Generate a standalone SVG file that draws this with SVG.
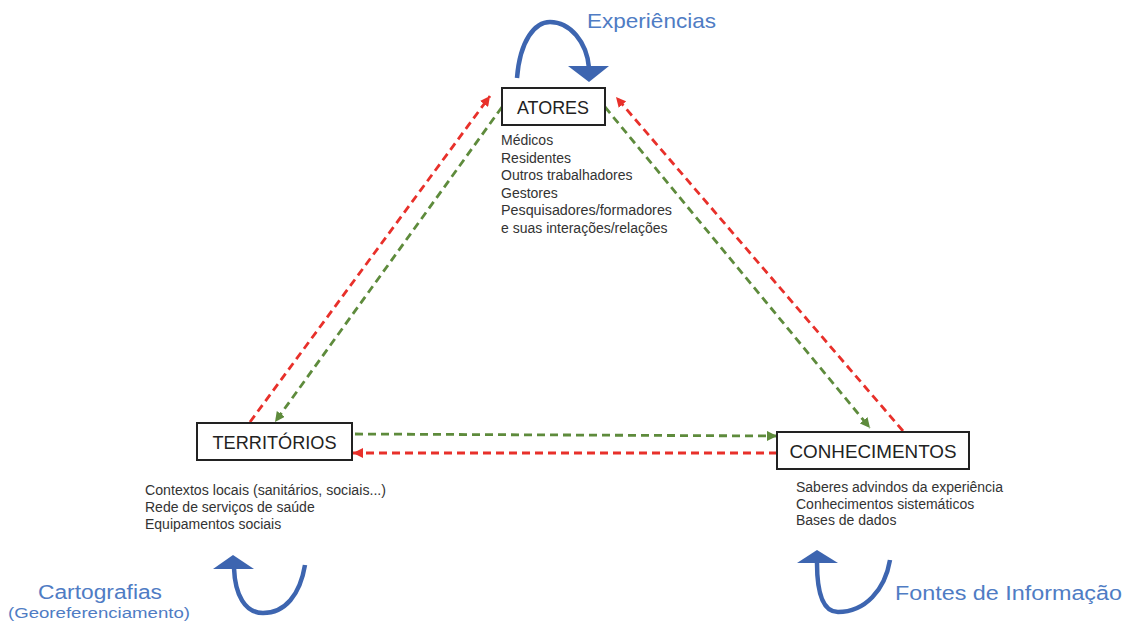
<svg xmlns="http://www.w3.org/2000/svg" width="1129" height="628" viewBox="0 0 1129 628">
  <style>
    .box { fill: #ffffff; stroke: #222222; stroke-width: 2; }
    .title { font-family: "Liberation Sans", "Open Sans", sans-serif; font-size: 18px; fill: #222222; }
    .sub { font-family: "Liberation Sans", "Open Sans", sans-serif; font-size: 14px; fill: #333333; }
    .label { font-family: "Liberation Sans", "Open Sans", sans-serif; fill: #4f7cc4; }
    .red { stroke: #e8302a; stroke-width: 2.8; stroke-dasharray: 8 5; fill: none; marker-end: url(#arrRed); }
    .green { stroke: #5e8b3c; stroke-width: 2.8; stroke-dasharray: 8 5; fill: none; marker-end: url(#arrGreen); }
    .loop { stroke: #3d65b0; stroke-width: 4.5; fill: none; }
    .loophead { fill: #3d65b0; }
  </style>
  <defs>
    <marker id="arrRed" markerUnits="userSpaceOnUse" markerWidth="12" markerHeight="10" refX="10" refY="5" orient="auto">
      <path d="M0,0 L10,5 L0,10 Z" fill="#e8302a"/>
    </marker>
    <marker id="arrGreen" markerUnits="userSpaceOnUse" markerWidth="12" markerHeight="10" refX="10" refY="5" orient="auto">
      <path d="M0,0 L10,5 L0,10 Z" fill="#5e8b3c"/>
    </marker>
  </defs>
  <rect width="1129" height="628" fill="#ffffff"/>

  <g id="connectors">
    <line class="red" x1="250" y1="422" x2="490" y2="96"/>
    <line class="green" x1="502" y1="107" x2="275" y2="422"/>
    <line class="green" x1="605" y1="107" x2="870" y2="428"/>
    <line class="red" x1="903" y1="431" x2="616" y2="97"/>
    <line class="green" x1="355" y1="434" x2="777" y2="436"/>
    <line class="red" x1="777" y1="453" x2="353" y2="453"/>
  </g>

  <g id="atores">
    <rect class="box" x="502" y="88" width="103" height="37"/>
    <text class="title" x="553" y="114" text-anchor="middle" textLength="72" lengthAdjust="spacingAndGlyphs">ATORES</text>
    <text class="sub" x="501" y="145">Médicos</text>
    <text class="sub" x="501" y="162.5">Residentes</text>
    <text class="sub" x="501" y="180">Outros trabalhadores</text>
    <text class="sub" x="501" y="197.5">Gestores</text>
    <text class="sub" x="501" y="215" textLength="171" lengthAdjust="spacingAndGlyphs">Pesquisadores/formadores</text>
    <text class="sub" x="501" y="232.5">e suas interações/relações</text>
  </g>

  <g id="territorios">
    <rect class="box" x="197" y="423" width="155" height="37"/>
    <text class="title" x="274.5" y="449" text-anchor="middle" textLength="124" lengthAdjust="spacingAndGlyphs">TERRITÓRIOS</text>
    <text class="sub" x="145" y="495" textLength="241" lengthAdjust="spacingAndGlyphs">Contextos locais (sanitários, sociais...)</text>
    <text class="sub" x="145" y="512">Rede de serviços de saúde</text>
    <text class="sub" x="145" y="529">Equipamentos sociais</text>
  </g>

  <g id="conhecimentos">
    <rect class="box" x="777" y="432" width="192" height="37"/>
    <text class="title" x="873" y="458" text-anchor="middle" textLength="167" lengthAdjust="spacingAndGlyphs">CONHECIMENTOS</text>
    <text class="sub" x="796" y="492" textLength="207" lengthAdjust="spacingAndGlyphs">Saberes advindos da experiência</text>
    <text class="sub" x="796" y="508.5">Conhecimentos sistemáticos</text>
    <text class="sub" x="796" y="525">Bases de dados</text>
  </g>

  <g id="experiencias">
    <path class="loop" d="M517,78 C520,40 535,22 550,22 C570,22 587,42 589,68"/>
    <polygon class="loophead" points="568,66 609,66 589,82"/>
    <text class="label" x="587" y="28" font-size="21" textLength="129" lengthAdjust="spacingAndGlyphs">Experiências</text>
  </g>

  <g id="cartografias">
    <path class="loop" d="M305,565 C300,595 285,613 263,613 C245,613 235,595 234,568"/>
    <polygon class="loophead" points="233,555 213,569 254,569"/>
    <text class="label" x="100" y="599" font-size="20" text-anchor="middle" textLength="124" lengthAdjust="spacingAndGlyphs">Cartografias</text>
    <text class="label" x="99" y="618" font-size="15.5" text-anchor="middle" textLength="182" lengthAdjust="spacingAndGlyphs">(Georeferenciamento)</text>
  </g>

  <g id="fontes">
    <path class="loop" d="M890,560 C885,590 865,612 838,612 C822,612 817,590 817,563"/>
    <polygon class="loophead" points="817,550 797,563 838,563"/>
    <text class="label" x="895" y="600" font-size="20" textLength="227" lengthAdjust="spacingAndGlyphs">Fontes de Informação</text>
  </g>
</svg>
